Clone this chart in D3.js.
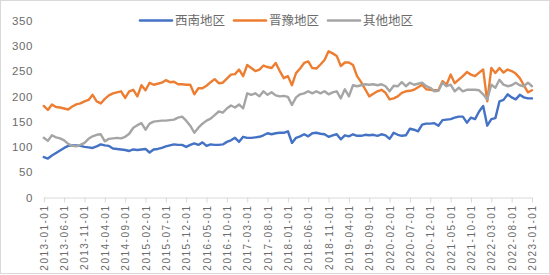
<!DOCTYPE html>
<html><head><meta charset="utf-8">
<script src="https://cdn.jsdelivr.net/npm/d3@7"></script>
<style>
html,body{margin:0;padding:0;background:#fff;}
svg{display:block;}
</style></head>
<body><svg id="c" width="550" height="275"></svg>
<script>
// Categories: monthly from 2013-01-01 to 2023-01-01 (121 months)
const months = d3.timeMonth.range(new Date(2013,0,1), new Date(2023,1,1)).map(d3.timeFormat("%Y-%m-%d"));
const tickLabels = ["2013-01-01","2013-06-01","2013-11-01","2014-04-01","2014-09-01","2015-02-01","2015-07-01","2015-12-01","2016-05-01","2016-10-01","2017-03-01","2017-08-01","2018-01-01","2018-06-01","2018-11-01","2019-04-01","2019-09-01","2020-02-01","2020-07-01","2020-12-01","2021-05-01","2021-10-01","2022-03-01","2022-08-01","2023-01-01"];
const yTicks = [0,50,100,150,200,250,300,350];
const seriesNames = ["西南地区","晋豫地区","其他地区"];
const colors = ["#4472C4","#ED7D31","#A5A5A5"];

const southwest = [80,77,83,88,93,98,102,103,103,102,100,99,98,101,105,103,102,97,96,95,94,
 92,95,94,95,96,89,95,96,98,101,103,105,104,104,100,104,107,104,109,102,
 105,104,104,105,110,113,118,110,120,118,118,119,120,123,127,125,127,128,128,131,
 108,118,121,125,121,127,128,126,125,120,123,125,115,123,121,125,122,122,124,123,
 124,122,125,123,116,128,124,122,123,136,134,131,144,146,146,147,142,153,154,155,
 158,160,160,148,158,155,170,181,142,155,157,190,193,204,198,194,203,198,196,196];
const jinyu = [181,173,184,179,178,176,174,180,184,186,190,193,203,190,186,195,202,206,208,210,197,
 210,213,200,222,212,227,223,225,227,232,228,229,224,224,223,223,204,216,216,221,
 228,234,226,227,235,243,244,253,240,262,256,250,253,261,258,256,266,250,236,240,
 222,246,255,266,269,256,255,263,272,289,285,280,260,267,267,262,240,228,214,200,
 205,210,213,207,194,196,200,207,210,211,213,218,223,214,213,212,212,230,223,243,
 226,233,240,248,243,240,247,253,190,256,246,256,247,253,250,245,236,222,208,212];
const others = [118,112,123,119,117,113,106,102,101,104,108,116,121,124,125,111,116,117,118,117,120,
 126,138,143,147,134,146,150,151,152,152,153,154,158,160,152,142,128,138,146,152,
 156,163,170,168,176,182,178,184,176,206,203,206,200,210,203,208,202,200,201,199,
 183,198,204,206,210,206,210,206,210,204,208,210,196,214,200,222,220,222,224,223,
 224,222,224,220,210,221,220,228,220,227,223,225,227,220,217,210,211,227,220,223,
 210,217,210,213,213,213,212,204,194,223,217,233,223,220,222,227,222,220,227,220];

const series = [southwest, jinyu, others];

const svg = d3.select("#c");
svg.append("rect").attr("x",0.5).attr("y",0.5).attr("width",549).attr("height",273)
  .attr("fill","#fff").attr("stroke","#d9d9d9").attr("stroke-width",1);

const x = d3.scalePoint().domain(months).range([43.8, 532]);
const y = d3.scaleLinear().domain([0,350]).range([197.5, 20.5]);

const txt = "#6b6b6b";
// Y axis labels
const yAxis = d3.axisLeft(y).tickValues(yTicks).tickSize(0).tickPadding(0);
const gy = svg.append("g").attr("transform","translate(33,0)").call(yAxis);
gy.select(".domain").remove();
gy.selectAll("text").attr("fill",txt).attr("font-family","'Liberation Sans', Arial, sans-serif")
  .attr("font-size","11.5px").attr("letter-spacing","0.6px").attr("dx","0");

// X axis
const xAxis = d3.axisBottom(x).tickValues(tickLabels).tickSize(5).tickFormat(d=>d);
const gx = svg.append("g").attr("transform","translate(0,197.5)").call(xAxis);
gx.select(".domain").attr("stroke","#d9d9d9").attr("d","M43.8,0.5H532");
gx.selectAll(".tick line").attr("stroke","#d9d9d9");
gx.selectAll("text").attr("fill",txt).attr("font-family","'Liberation Sans', Arial, sans-serif")
  .attr("font-size","10px").attr("letter-spacing","1.5px")
  .attr("text-anchor","end").attr("transform","rotate(-90)")
  .attr("x",-7).attr("y",0).attr("dy","0.35em");

// Lines
const line = d3.line().x((d,i)=>x(months[i])).y(d=>y(d));
series.forEach((s,k)=>{
  svg.append("path").datum(s).attr("d",line).attr("fill","none")
    .attr("stroke",colors[k]).attr("stroke-width",2.4).attr("stroke-linejoin","round").attr("stroke-linecap","round");
});

// Legend
const legX = [140, 234, 328];
const lg = svg.append("g");
seriesNames.forEach((n,k)=>{
  lg.append("line").attr("x1",legX[k]).attr("x2",legX[k]+32).attr("y1",20.5).attr("y2",20.5)
    .attr("stroke",colors[k]).attr("stroke-width",2.6).attr("stroke-linecap","round");
  lg.append("text").attr("x",legX[k]+35).attr("y",20.5).attr("dy","0.36em")
    .attr("font-family","'Noto Sans CJK SC', sans-serif").attr("font-size","12.5px")
    .attr("fill",txt).text(n);
});
</script></body></html>
